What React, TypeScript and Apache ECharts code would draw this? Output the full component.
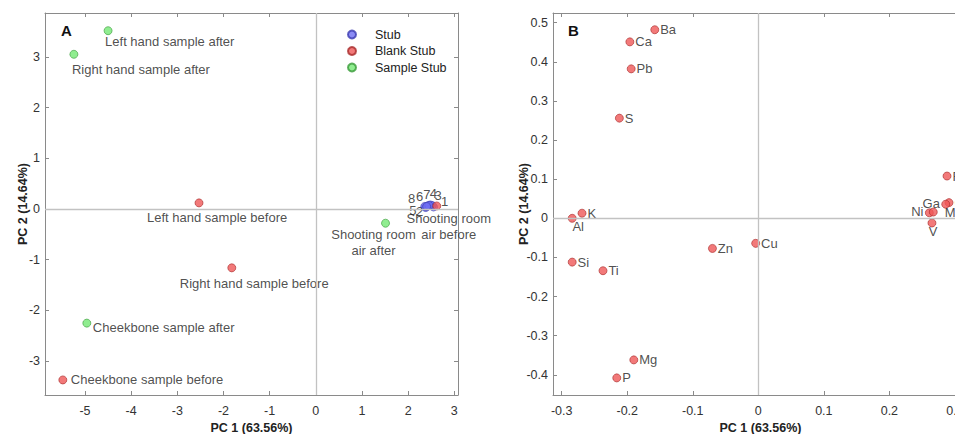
import React, { useEffect, useRef } from "react";
import * as echarts from "echarts";

const FONT = "'Liberation Sans', Arial, Helvetica, sans-serif";

// ---- Panel A: sample scores ----
const stubNames = ["1", "2", "3", "4", "5", "6", "7", "8"];
const stubPC1 = [2.55, 2.38, 2.52, 2.48, 2.36, 2.42, 2.45, 2.4];
const stubPC2 = [0.04, 0.03, 0.07, 0.08, 0.05, 0.06, 0.07, 0.05];
// label placement [dx, dy] around each stub point
const stubLabelOffset = [
  [11, -5], [-6, 4], [6, -10], [3, -11], [-12, 4], [-8, -9], [-2, -11], [-15, -8],
];

const blankNames = [
  "Left hand sample before",
  "Right hand sample before",
  "Cheekbone sample before",
  "Shooting room\nair before",
];
const blankPC1 = [-2.53, -1.82, -5.48, 2.62];
const blankPC2 = [0.12, -1.16, -3.37, 0.06];
const blankLabelPlace: [string, number, number][] = [
  ["left", -52, 15], ["left", -52, 16], ["left", 8, 0], ["center", 12, 21],
];

const sampleNames = [
  "Left hand sample after",
  "Right hand sample after",
  "Cheekbone sample after",
  "Shooting room\nair after",
];
const samplePC1 = [-4.5, -5.24, -4.96, 1.51];
const samplePC2 = [3.515, 3.05, -2.25, -0.28];
const sampleLabelPlace: [string, number, number][] = [
  ["left", -3, 11], ["left", -2, 15], ["left", 6, 4], ["center", -12, 19],
];

// ---- Panel B: element loadings ----
const elementNames = ["Ba", "Ca", "Pb", "S", "K", "Al", "Si", "Ti", "Zn", "Cu", "Mg", "P", "Fe", "Cr", "Mn", "Ni", "Ga", "V"];
const elementPC1 = [-0.158, -0.196, -0.194, -0.212, -0.269, -0.284, -0.284, -0.237, -0.07, -0.004, -0.19, -0.216, 0.288, 0.291, 0.286, 0.261, 0.267, 0.265];
const elementPC2 = [0.482, 0.451, 0.382, 0.256, 0.013, 0.0, -0.112, -0.134, -0.077, -0.064, -0.362, -0.408, 0.108, 0.04, 0.036, 0.014, 0.016, -0.012];
// null => label on the right of the point; otherwise [align, dx, dy]
const elementLabelPlace: ([string, number, number] | null)[] = [
  null, null, null, null, null, ["center", 6, 8], null, null, null, null, null, null,
  null, null, ["left", -1, 8], ["center", -12, -1], ["center", -2, -9], ["center", 1, 9],
];

const BLUE = { color: "#6e6ef2", borderColor: "#3b3bb0", borderWidth: 0.8 };
const RED = { color: "#ef5757", borderColor: "#a82a2a", borderWidth: 0.8 };
const GREEN = { color: "#74e874", borderColor: "#3a9a3a", borderWidth: 0.8 };

function placedLabel(text: string, align: string, dx: number, dy: number) {
  return {
    show: true,
    formatter: text,
    position: "inside",
    align,
    verticalAlign: "middle",
    offset: [dx, dy],
    color: "#222",
    fontSize: 13,
    lineHeight: 16,
    fontFamily: FONT,
  };
}

export default function App() {
  const ref = useRef<HTMLDivElement>(null);

  useEffect(() => {
    if (!ref.current) return;
    const chart = echarts.init(ref.current, undefined, { renderer: "svg" });

    const axisLine = { show: true, onZero: false, lineStyle: { color: "#8a8a8a", width: 1 } };
    const axisTick = { show: true, inside: true, length: 4, lineStyle: { color: "#8a8a8a" } };
    const label = {
      color: "#333",
      fontSize: 12.5,
      fontFamily: FONT,
      showMinLabel: false,
      showMaxLabel: false,
    };
    const nameStyle = { fontWeight: "bold", fontSize: 12.5, color: "#222", fontFamily: FONT };

    const mainX = (gridIndex: number, min: number, max: number, step: number) => ({
      type: "value", gridIndex, min, max, minInterval: step, maxInterval: step,
      axisLine, axisTick, splitLine: { show: false },
      axisLabel: { ...label, margin: 9 },
      name: "PC 1 (63.56%)", nameLocation: "middle", nameGap: 26, nameMoveOverlap: false,
      nameTextStyle: nameStyle,
    });
    const mainY = (gridIndex: number, min: number, max: number, step: number, gap: number) => ({
      type: "value", gridIndex, min, max, minInterval: step, maxInterval: step,
      axisLine, axisTick, splitLine: { show: false },
      axisLabel: { ...label, margin: 5 },
      name: "PC 2 (14.64%)", nameLocation: "middle", nameGap: gap, nameMoveOverlap: false,
      nameTextStyle: nameStyle,
    });
    const boxAxis = (gridIndex: number, min: number, max: number, step: number, position: string) => ({
      type: "value", gridIndex, min, max, minInterval: step, maxInterval: step, position,
      axisLine, axisTick, splitLine: { show: false }, axisLabel: { show: false },
    });

    const zeroLines = (xi: number, yi: number) => ({
      type: "scatter", xAxisIndex: xi, yAxisIndex: yi, data: [], silent: true, z: 1,
      markLine: {
        silent: true, symbol: ["none", "none"], label: { show: false },
        lineStyle: { color: "#c2c2c2", type: "solid", width: 1.3 },
        data: [{ xAxis: 0 }, { yAxis: 0 }],
      },
    });

    const option: any = {
      animation: false,
      backgroundColor: "#fff",
      grid: [
        { left: 45, top: 13, width: 413, height: 382, containLabel: false, outerBoundsMode: "none" },
        { left: 553, top: 13, width: 415, height: 382, containLabel: false, outerBoundsMode: "none" },
      ],
      xAxis: [
        mainX(0, -5.866, 3.08, 1),
        mainX(1, -0.3133, 0.32, 0.1),
        boxAxis(0, -5.866, 3.08, 1, "top"),
        boxAxis(1, -0.3133, 0.32, 0.1, "top"),
      ],
      yAxis: [
        mainY(0, -3.667, 3.864, 1, 16),
        mainY(1, -0.4517, 0.5248, 0.1, 23),
        boxAxis(0, -3.667, 3.864, 1, "right"),
      ],
      legend: {
        data: ["Stub", "Blank Stub", "Sample Stub"],
        orient: "vertical",
        left: 342,
        top: 23,
        itemWidth: 8,
        itemHeight: 8,
        itemGap: 3.5,
        icon: "circle",
        selectedMode: false,
        textStyle: { fontSize: 12.5, color: "#222", fontFamily: FONT, padding: [0, 0, 0, 14] },
      },
      graphic: [
        { type: "text", left: 61, top: 23, style: { text: "A", font: `bold 15px ${FONT}`, fill: "#111" } },
        { type: "text", left: 568, top: 23, style: { text: "B", font: `bold 15px ${FONT}`, fill: "#111" } },
      ],
      series: [
        zeroLines(0, 0),
        zeroLines(1, 1),
        {
          name: "Stub", type: "scatter", xAxisIndex: 0, yAxisIndex: 0, symbolSize: 8, itemStyle: BLUE, z: 3,
          data: stubNames.map((n, i) => ({
            name: n, value: [stubPC1[i], stubPC2[i]],
            label: placedLabel(n, "center", stubLabelOffset[i][0], stubLabelOffset[i][1]),
          })),
        },
        {
          name: "Blank Stub", type: "scatter", xAxisIndex: 0, yAxisIndex: 0, symbolSize: 8, itemStyle: RED, z: 4,
          data: blankNames.map((n, i) => ({
            name: n, value: [blankPC1[i], blankPC2[i]],
            label: placedLabel(n, blankLabelPlace[i][0], blankLabelPlace[i][1], blankLabelPlace[i][2]),
          })),
        },
        {
          name: "Sample Stub", type: "scatter", xAxisIndex: 0, yAxisIndex: 0, symbolSize: 8, itemStyle: GREEN, z: 4,
          data: sampleNames.map((n, i) => ({
            name: n, value: [samplePC1[i], samplePC2[i]],
            label: placedLabel(n, sampleLabelPlace[i][0], sampleLabelPlace[i][1], sampleLabelPlace[i][2]),
          })),
        },
        {
          name: "Elements", type: "scatter", xAxisIndex: 1, yAxisIndex: 1, symbolSize: 8, itemStyle: RED, z: 4,
          data: elementNames.map((n, i) => {
            const p = elementLabelPlace[i];
            return {
              name: n, value: [elementPC1[i], elementPC2[i]],
              label: p
                ? placedLabel(n, p[0], p[1], p[2])
                : { show: true, formatter: n, position: "right", distance: 1, color: "#222", fontSize: 13, fontFamily: FONT },
            };
          }),
        },
      ],
    };

    chart.setOption(option);
    return () => chart.dispose();
  }, []);

  return (
    <div
      ref={ref}
      style={{ position: "absolute", left: 0, top: 0, width: 955, height: 434, background: "#fff" }}
    />
  );
}
